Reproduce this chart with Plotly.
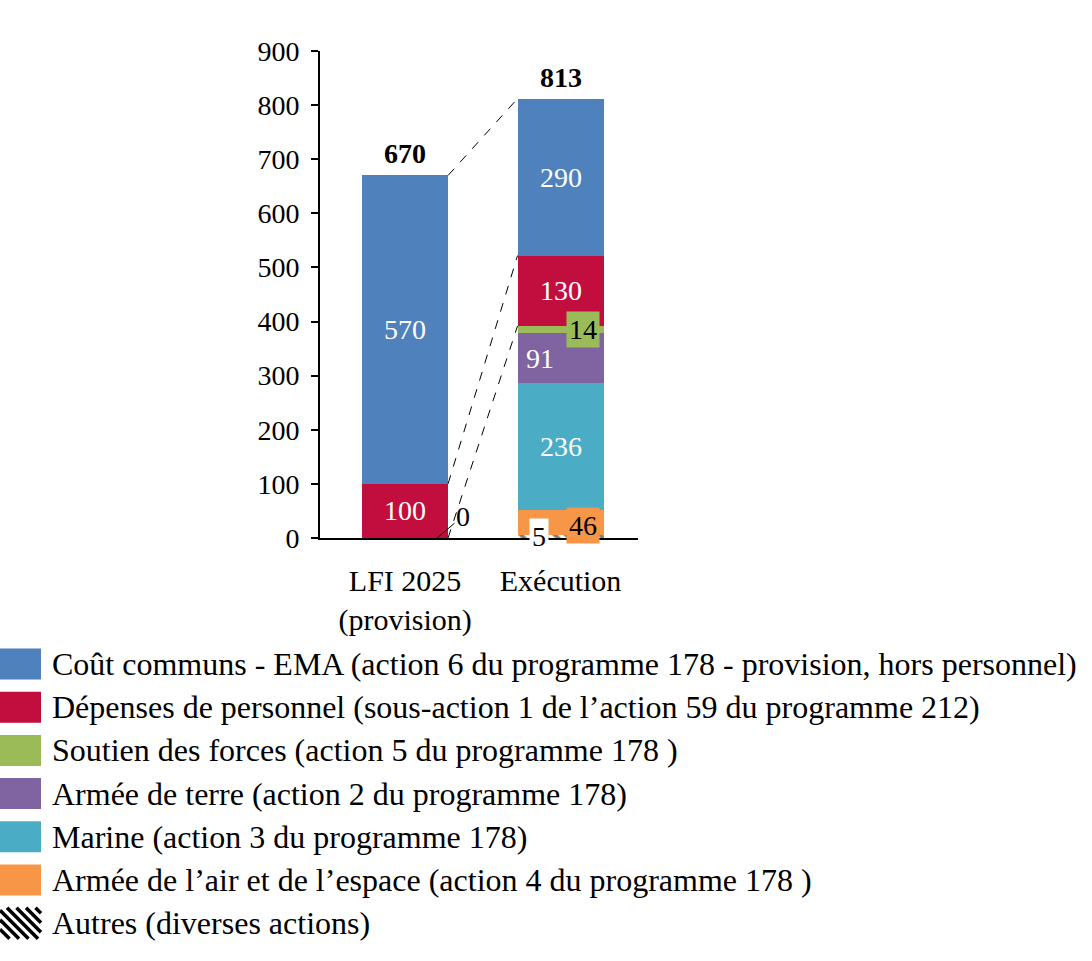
import plotly.graph_objects as go
import numpy as np

# ---------------- data ----------------
categories = ["LFI 2025<br>(provision)", "Exécution"]
series_names = [
    "Autres (diverses actions)",
    "Armée de l’air et de l’espace (action 4 du programme 178 )",
    "Marine (action 3 du programme 178)",
    "Armée de terre (action 2 du programme 178)",
    "Soutien des forces (action 5 du programme 178 )",
    "Dépenses de personnel (sous-action 1 de l’action 59 du programme 212)",
    "Coût communs - EMA (action 6 du programme 178 - provision, hors personnel)",
]
autres = [0, 5]
air = [0, 46]
marine = [0, 236]
terre = [0, 91]
soutien = [0, 14]
personnel = [100, 130]
ema = [570, 290]
totals = [670, 813]
y_ticks = [0, 100, 200, 300, 400, 500, 600, 700, 800, 900]

series_values = [autres, air, marine, terre, soutien, personnel, ema]
colors = ["#FFFFFF", "#F79646", "#4BACC6", "#8064A2", "#9BBB59", "#C20E3E", "#4F81BD"]
legend_order = [6, 5, 4, 3, 2, 1, 0]

FONT = "Liberation Serif"
W, H = 1092, 961
ML, MR, MT, MB = 320, 454, 51, 423
PW, PH = W - ML - MR, H - MT - MB


def px2x(px):
    return (px - ML) / PW


def px2y(py):
    return (H - MB - py) / PH


XR = [-0.547, 1.498]
BARGAP = 0.447
HALF = (1 - BARGAP) / 2

fig = go.Figure()
for i, (name, vals, col) in enumerate(zip(series_names, series_values, colors)):
    marker = dict(color=col, line=dict(width=0))
    if i == 0:
        marker["pattern"] = dict(shape="\\", fgcolor="black", bgcolor="white", size=8, solidity=0.5)
    fig.add_trace(go.Bar(x=categories, y=vals, name=name, marker=marker, showlegend=False,
                         hoverinfo="skip"))

# cumulative positions
vals_arr = np.array(series_values)
cum = np.cumsum(vals_arr, axis=0)
bottoms = cum - vals_arr
centers = bottoms + vals_arr / 2

annotations = []
shapes = []


def lab(ci, si, xshift=0, color="white", bg=None, yshift=0):
    d = dict(x=categories[ci], y=centers[si][ci], xref="x", yref="y",
             text=str(series_values[si][ci]), showarrow=False,
             font=dict(family=FONT, size=28, color=color), xshift=xshift, yshift=yshift)
    if bg:
        d["bgcolor"] = bg
        d["borderpad"] = 2
    annotations.append(d)


lab(0, 6)
lab(0, 5)
lab(1, 6)
lab(1, 5)
lab(1, 3, xshift=-21)
lab(1, 2)
lab(1, 4, xshift=22, color="black", bg=colors[4])
lab(1, 1, xshift=22, color="black", bg=colors[1], yshift=-3)
lab(1, 0, xshift=-22, color="black", bg="white")

# "0" label for Autres in LFI with leader
annotations.append(dict(x=categories[0], y=cum[0][0], xref="x", yref="y", text=str(autres[0]),
                        showarrow=True, arrowhead=0, arrowwidth=1, arrowcolor="black",
                        ax=26, ay=-22, xshift=32,
                        font=dict(family=FONT, size=28, color="black")))

# totals
for ci in range(2):
    annotations.append(dict(x=categories[ci], y=cum[-1][ci], xref="x", yref="y",
                            text="<b>%d</b>" % totals[ci], showarrow=False, yanchor="bottom",
                            yshift=4, font=dict(family=FONT, size=28, color="black")))

# dashed connectors
dash = dict(color="black", width=1, dash="dash")
conn = [(cum[-1][0], cum[-1][1]), (cum[5][0], cum[5][1]), (bottoms[5][0], bottoms[5][1])]
for a, b in conn:
    shapes.append(dict(type="line", xref="x", yref="y", x0=HALF, y0=a, x1=1 - HALF, y1=b, line=dash))

# manual legend
row0, step = 664, 43.2
for r, si in enumerate(legend_order):
    cy = row0 + r * step
    top, bot = cy - 15.5, cy + 15.5
    if si == 0:
        for k in np.arange(-31, 42, 9.5):
            s0 = max(0, -k)
            s1 = min(31, 41 - k)
            if s1 > s0:
                shapes.append(dict(type="line", xref="paper", yref="paper",
                                   x0=px2x(k + s0), y0=px2y(top + s0),
                                   x1=px2x(k + s1), y1=px2y(top + s1),
                                   line=dict(color="black", width=3.5)))
    else:
        shapes.append(dict(type="rect", xref="paper", yref="paper",
                           x0=px2x(0), x1=px2x(41), y0=px2y(bot), y1=px2y(top),
                           fillcolor=colors[si], line=dict(width=0)))
    annotations.append(dict(x=px2x(50), y=px2y(cy), xref="paper", yref="paper",
                            xanchor="left", yanchor="middle", showarrow=False,
                            text=series_names[si], font=dict(family=FONT, size=32, color="black")))

fig.update_layout(
    barmode="stack", bargap=BARGAP,
    width=W, height=H,
    margin=dict(l=ML, r=MR, t=MT, b=MB, pad=0),
    plot_bgcolor="white", paper_bgcolor="white",
    font=dict(family=FONT, size=28, color="black"),
    annotations=annotations, shapes=shapes,
    xaxis=dict(range=XR, showline=True, linecolor="black", linewidth=2, ticks="",
               tickfont=dict(family=FONT, size=30, color="black"), showgrid=False,
               ticklabelstandoff=15, zeroline=False),
    yaxis=dict(range=[0, 900], tickvals=y_ticks, showline=True, linecolor="black", linewidth=2,
               ticks="outside", ticklen=7, tickwidth=2, tickcolor="black", showgrid=False,
               zeroline=False, tickfont=dict(family=FONT, size=28, color="black"),
               ticklabelstandoff=6),
)

fig.write_html("out.html", config={"displayModeBar": False},
               post_script="document.body.style.margin='0';document.body.style.overflow='hidden';")
